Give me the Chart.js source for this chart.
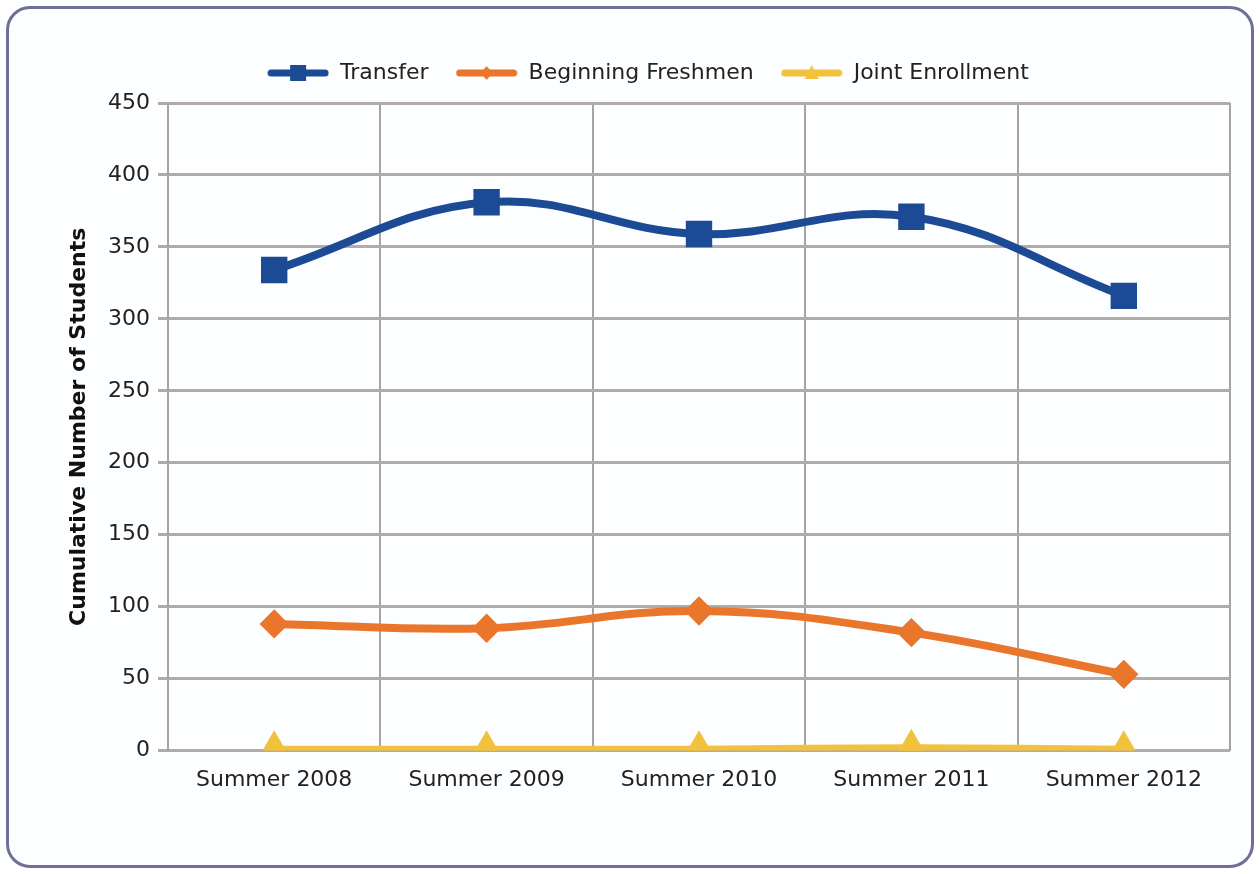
<!DOCTYPE html>
<html>
<head>
<meta charset="utf-8">
<script src="https://cdn.jsdelivr.net/npm/chart.js@4/dist/chart.umd.min.js"></script>
<style>
  html, body { margin: 0; padding: 0; background: #ffffff; }
  #frame {
    position: absolute; left: 6px; top: 6px; width: 1242px; height: 856px;
    border: 3px solid #6e7098; border-radius: 24px; background: #fdfeff;
  }
  #wrap { position: absolute; left: 0; top: 0; width: 1242px; height: 856px; }
</style>
</head>
<body>
<div id="frame"><div id="wrap"><canvas id="lineChart"></canvas></div></div>
<script>
// categories along x
const terms = ["Summer 2008", "Summer 2009", "Summer 2010", "Summer 2011", "Summer 2012"];
// series values
const transfer = [334, 381, 359, 371, 316];
const freshmen = [88, 85, 97, 82, 53];
const joint = [1, 1, 1, 2, 1];
// y tick settings
const Y_MIN = 0;
const Y_MAX = 450;
const Y_STEP = 50;

const BLUE = "#1d4a94";
const ORANGE = "#e9762b";
const YELLOW = "#f2c23c";
const FONT = 'DejaVu Sans, Verdana, sans-serif';

// little legend swatch: line with marker in the middle
function swatch(color, style) {
  const c = document.createElement("canvas");
  c.width = 62; c.height = 20;
  const g = c.getContext("2d");
  g.strokeStyle = color; g.lineWidth = 7; g.lineCap = "round";
  g.beginPath(); g.moveTo(4, 10); g.lineTo(58, 10); g.stroke();
  g.fillStyle = color;
  g.beginPath();
  if (style === "rect") g.rect(23, 2, 16, 16);
  else if (style === "diamond") { g.moveTo(31, 3); g.lineTo(37, 10); g.lineTo(31, 17); g.lineTo(25, 10); }
  else { g.moveTo(31, 2); g.lineTo(38, 16); g.lineTo(24, 16); }
  g.closePath(); g.fill();
  return c;
}

const CHART = document.getElementById("lineChart");
let lineChart = new Chart(CHART, {
  type: 'line',
  data: {
    labels: terms,
    datasets: [{
      label: 'Transfer',
      data: transfer,
      borderColor: BLUE, backgroundColor: BLUE,
      borderWidth: 8, tension: 0.4,
      pointStyle: 'rect', pointRadius: 13, pointHoverRadius: 13,
      legendStyle: swatch(BLUE, "rect")
    }, {
      label: 'Beginning Freshmen',
      data: freshmen,
      borderColor: ORANGE, backgroundColor: ORANGE,
      borderWidth: 8, tension: 0.4,
      pointStyle: 'rectRot', pointRadius: 9, pointHoverRadius: 9,
      legendStyle: swatch(ORANGE, "diamond")
    }, {
      label: 'Joint Enrollment',
      data: joint,
      borderColor: YELLOW, backgroundColor: YELLOW,
      borderWidth: 7, tension: 0.4,
      pointStyle: 'triangle', pointRadius: 12, pointHoverRadius: 12,
      legendStyle: swatch(YELLOW, "triangle")
    }]
  },
  options: {
    responsive: true,
    maintainAspectRatio: false,
    animation: false,
    layout: { padding: { left: 57, right: 21, top: 26, bottom: 56 } },
    plugins: {
      tooltip: { enabled: false },
      legend: {
        position: 'top',
        labels: {
          usePointStyle: true,
          pointStyleWidth: 62,
          boxHeight: 20,
          color: '#222',
          font: { family: FONT, size: 22 },
          padding: 27,
          generateLabels: chart => chart.data.datasets.map((ds, i) => ({
            text: ds.label,
            pointStyle: ds.legendStyle,
            fillStyle: ds.borderColor,
            strokeStyle: ds.borderColor,
            lineWidth: 0,
            datasetIndex: i,
            fontColor: '#222'
          }))
        }
      }
    },
    scales: {
      x: {
        offset: true,
        grid: { offset: true, color: '#a9a3a0', lineWidth: 2, drawTicks: false },
        border: { display: false },
        ticks: {
          color: '#222', padding: 16,
          font: { family: FONT, size: 22 }
        }
      },
      y: {
        min: Y_MIN, max: Y_MAX,
        afterFit: scale => { scale.width = 102; },
        grid: { color: '#b1aba9', lineWidth: 3, drawTicks: true, tickLength: 10 },
        border: { display: true, color: '#a9a3a0', width: 2 },
        ticks: {
          stepSize: Y_STEP, color: '#222', padding: 8,
          font: { family: FONT, size: 22 }
        },
        title: {
          display: true,
          text: 'Cumulative Number of Students',
          color: '#111',
          padding: { top: 0, bottom: 0 },
          font: { family: FONT, size: 22, weight: 'bold' }
        }
      }
    }
  }
});

// leave a bit more room between legend and plot
const origFit = lineChart.legend.fit;
lineChart.legend.fit = function () { origFit.call(this); this.height += 9; };
lineChart.update();
</script>
</body>
</html>
